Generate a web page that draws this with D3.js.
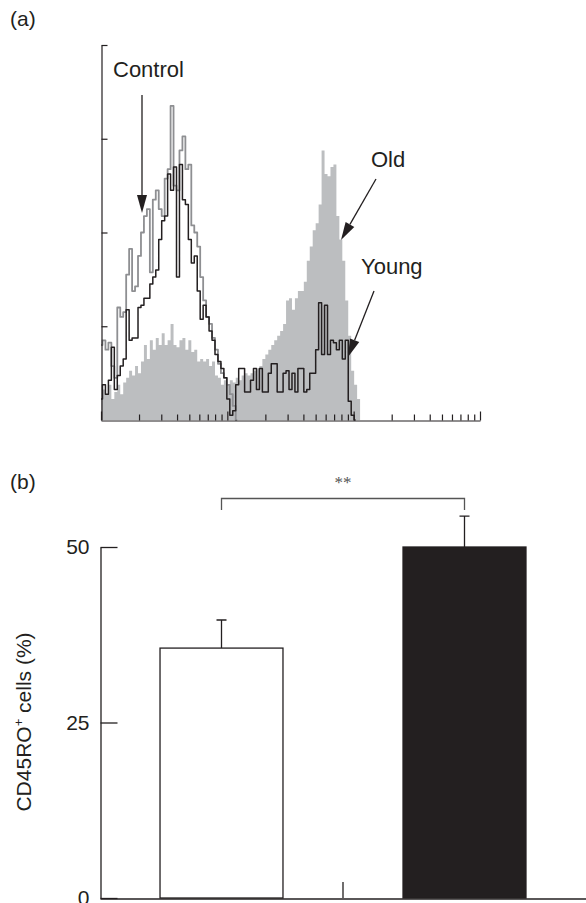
<!DOCTYPE html>
<html>
<head>
<meta charset="utf-8">
<script src="https://cdn.jsdelivr.net/npm/d3@7"></script>
<style>
body { margin: 0; background: #fff; }
svg text { font-family: "Liberation Sans", Arial, Helvetica, sans-serif; fill: #231f20; }
</style>
</head>
<body>
<div id="chart"></div>
<script>
// (a) CD45RO histogram, cell counts per channel bin (128 bins over 3 log decades)
const controlCounts = [32,34,30,33,23,18,48,44,46,62, 73,55,57,70,80,87,90,63,94,98,
	90,87,103,107,134,100,98,115,121,107, 109,83,80,74,61,51,44,41,35,30, 24,20,18,15,11,6,0]
const youngCounts = [9,15,11,17,31,13,19,23,26,47, 34,35,35,48,49,52,52,58,61,64,
	77,85,87,105,98,108,61,109,94,92, 77,67,70,55,43,49,44,38,34,28,
	25,22,18,9,2,4,15,22,22,12, 12,17,22,13,22,12,12,20,24,24,
	12,12,20,21,13,20,12,22,22,12, 13,20,20,30,50,28,49,28,34,33, 30,34,26,34,8,2,0]
const oldCounts = [9,13,11,15,9,12,15,11,16,18, 21,19,23,20,25,32,26,34,30,35,
	32,37,32,34,41,32,31,34,35,30, 34,29,30,25,26,25,26,23,25,19,
	18,15,17,15,17,16,18,17,19,20, 19,20,21,22,23,26,28,30,32,34,
	36,38,41,51,52,47,52,55,55,59, 68,74,81,84,92,115,105,104,108,109, 87,77,68,51,36,21,15,9,0]
const countTicks = [40, 80, 120, 160]
const fluoDomain = [1, 1000]
const binCount = 128

// (b) CD45RO+ cells (%), mean and error
const groups = ["Young", "Old"]
const cd45roMeans = [35.6, 50.0]
const cd45roErrors = [4.0, 4.4]
const percentTicks = [0, 25, 50]

const w = 586, h = 903
const ink = "#231f20"

let svg = d3.select("#chart").append("svg").attr("width", w).attr("height", h)

/*
	panel (a)
*/
let chan = d3.scaleLinear().domain([0, binCount]).range([101, 480])
let fluo = d3.scaleLog().domain(fluoDomain).range([101, 480])
let countY = d3.scaleLinear().domain([0, 160]).range([420, 45])

let gA = svg.append("g").attr("class", "panelA")

//old = grey filled histogram
let area = d3.area()
	.x((d, i) => chan(i))
	.y0(countY(0))
	.y1(d => countY(d))
	.curve(d3.curveStep)

gA.append("path").datum(oldCounts)
	.attr("d", area)
	.attr("fill", "#bcbec0")

let line = d3.line()
	.x((d, i) => chan(i))
	.y(d => countY(d))
	.curve(d3.curveStep)

//control = grey outline, young = black outline
gA.append("path").datum(controlCounts)
	.attr("d", line)
	.attr("fill", "none")
	.attr("stroke", "#8e8f92")
	.attr("stroke-width", 1.8)
	.attr("stroke-linejoin", "round")

gA.append("path").datum(youngCounts)
	.attr("d", line)
	.attr("fill", "none")
	.attr("stroke", ink)
	.attr("stroke-width", 1.5)
	.attr("stroke-linejoin", "round")

//axes
let axA = gA.append("g")
	.attr("transform", "translate(101.5,0)")
	.call(d3.axisLeft(countY).tickValues(countTicks).tickSize(-6).tickSizeOuter(0).tickFormat(""))

let axB = gA.append("g")
	.attr("transform", "translate(0,420.5)")
	.call(d3.axisBottom(fluo).tickSize(-6).tickSizeOuter(0).tickFormat(""))

axB.selectAll(".tick line")
	.filter(d => Math.abs(Math.log10(d) - Math.round(Math.log10(d))) < 1e-9)
	.attr("y2", -9)

gA.selectAll(".domain, .tick line").attr("stroke", ink).attr("stroke-width", 1.2)

//labels with arrows
const annotations = [
	{text: "Control", tx: 113, ty: 77, x1: 142, y1: 95, x2: 142, y2: 213},
	{text: "Old", tx: 371, ty: 167, x1: 376, y1: 179, x2: 341, y2: 240},
	{text: "Young", tx: 361, ty: 274, x1: 374, y1: 291, x2: 348, y2: 357}
]

function arrow(g, a) {
	let len = Math.hypot(a.x2 - a.x1, a.y2 - a.y1)
	let ux = (a.x2 - a.x1) / len, uy = (a.y2 - a.y1) / len
	let bx = a.x2 - ux * 18, by = a.y2 - uy * 18
	g.append("line")
		.attr("x1", a.x1).attr("y1", a.y1).attr("x2", bx).attr("y2", by)
		.attr("stroke", ink).attr("stroke-width", 1.3)
	g.append("path")
		.attr("d", `M${a.x2},${a.y2}L${bx - uy * 5},${by + ux * 5}L${bx + uy * 5},${by - ux * 5}Z`)
		.attr("fill", ink)
}

annotations.forEach(a => {
	gA.append("text").attr("x", a.tx).attr("y", a.ty).attr("font-size", 22).text(a.text)
	arrow(gA, a)
})

svg.append("text").attr("x", 10).attr("y", 26).attr("font-size", 21).text("(a)")

/*
	panel (b)
*/
let gB = svg.append("g").attr("class", "panelB")

let yB = d3.scaleLinear().domain([0, 50]).range([898, 547])
let xB = d3.scaleBand().domain(groups).range([100, 586]).paddingInner(0.494).paddingOuter(0.247)

gB.append("g")
	.attr("transform", "translate(100.5,0)")
	.call(d3.axisLeft(yB).tickValues(percentTicks).tickSize(-17).tickSizeOuter(0).tickPadding(11))
	.call(g => g.selectAll("text").attr("font-size", 21).attr("font-family", null))

gB.append("g")
	.attr("transform", "translate(0,898.5)")
	.call(d3.axisBottom(xB).tickSize(0).tickFormat(""))

//group separator tick
let sepX = xB(groups[1]) - xB.step() * xB.paddingInner() / 2
gB.append("line")
	.attr("x1", sepX).attr("x2", sepX)
	.attr("y1", 898).attr("y2", 882)

gB.selectAll(".domain, .tick line, line").attr("stroke", ink).attr("stroke-width", 1.3)

let bars = groups.map((g, i) => ({group: g, mean: cd45roMeans[i], err: cd45roErrors[i]}))

gB.selectAll(".bar")
	.data(bars)
	.join("rect")
	.attr("class", "bar")
	.attr("x", d => xB(d.group))
	.attr("width", xB.bandwidth())
	.attr("y", d => yB(d.mean))
	.attr("height", d => yB(0) - yB(d.mean))
	.attr("fill", (d, i) => i == 0 ? "#fff" : ink)
	.attr("stroke", ink)
	.attr("stroke-width", 1.3)

let cx = d => xB(d.group) + xB.bandwidth() / 2

gB.selectAll(".err")
	.data(bars)
	.join("path")
	.attr("class", "err")
	.attr("d", d => `M${cx(d)},${yB(d.mean)}V${yB(d.mean + d.err)}M${cx(d) - 5},${yB(d.mean + d.err)}H${cx(d) + 5}`)
	.attr("stroke", ink)
	.attr("stroke-width", 1.3)
	.attr("fill", "none")

//significance bracket
let c0 = cx(bars[0]), c1 = cx(bars[1])
gB.append("path")
	.attr("d", `M${c0},510V498.5H${c1}V510`)
	.attr("stroke", "#555")
	.attr("stroke-width", 1.3)
	.attr("fill", "none")

gB.append("text")
	.attr("x", (c0 + c1) / 2).attr("y", 488)
	.attr("text-anchor", "middle")
	.attr("font-size", 17)
	.style("font-family", "'Liberation Serif', serif")
	.style("fill", "#555")
	.text("**")

//y label
let yl = gB.append("text")
	.attr("transform", "translate(31,722) rotate(-90)")
	.attr("text-anchor", "middle")
	.attr("font-size", 21)
yl.append("tspan").text("CD45RO")
yl.append("tspan").attr("dy", -8).attr("font-size", 13).text("+")
yl.append("tspan").attr("dy", 8).text(" cells (%)")

svg.append("text").attr("x", 10).attr("y", 489).attr("font-size", 21).text("(b)")
</script>
</body>
</html>
